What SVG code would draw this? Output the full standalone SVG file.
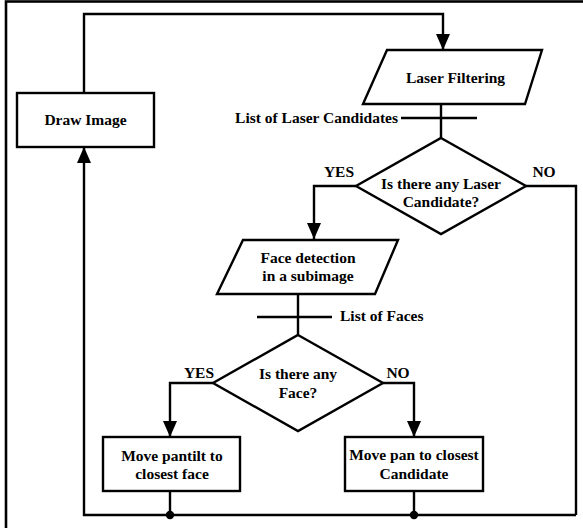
<svg xmlns="http://www.w3.org/2000/svg" width="583" height="528" viewBox="0 0 583 528">
<style>
  .shape { fill: #ffffff; stroke: #000000; stroke-width: 2.4; }
  .conn { fill: none; stroke: #000000; stroke-width: 2.4; }
  .t { font-family: "Liberation Serif", "Times New Roman", serif; font-weight: bold; font-size: 15.5px; fill: #000000; text-anchor: middle; }
  .ts { font-family: "Liberation Serif", "Times New Roman", serif; font-weight: bold; font-size: 15.5px; fill: #000000; }
</style>
<defs>
  <marker id="arrow" markerUnits="userSpaceOnUse" markerWidth="16" markerHeight="14" viewBox="0 0 16 14" refX="16" refY="7" orient="auto">
    <path d="M0,0 L16,7 L0,14 z" fill="#000000"/>
  </marker>
</defs>
<rect x="0" y="0" width="583" height="528" fill="#ffffff"/>
<rect id="frame" x="6" y="1.5" width="600" height="560" fill="none" stroke="#000000" stroke-width="2.6"/>

<g id="connectors">
  <path class="conn" d="M84,93 V14 H443 V50" marker-end="url(#arrow)"/>
  <path class="conn" d="M441,104 V138"/>
  <path class="conn" d="M401,118 H477"/>
  <path class="conn" d="M356,186 H314 V239" marker-end="url(#arrow)"/>
  <path class="conn" d="M526,186 H576 V515"/>
  <path class="conn" d="M298,294 V335"/>
  <path class="conn" d="M257,317 H332"/>
  <path class="conn" d="M213,383 H170 V437" marker-end="url(#arrow)"/>
  <path class="conn" d="M383,383 H414 V437" marker-end="url(#arrow)"/>
  <path class="conn" d="M170,491 V515"/>
  <path class="conn" d="M414,491 V515"/>
  <path class="conn" d="M576,515 H84 V147" marker-end="url(#arrow)"/>
  <circle cx="170" cy="515" r="4.2" fill="#000000"/>
  <circle cx="414" cy="515" r="4.2" fill="#000000"/>
  <text class="ts" x="398" y="122.5" text-anchor="end">List of Laser Candidates</text>
  <text class="ts" x="340" y="321">List of Faces</text>
  <text class="t" x="339" y="177">YES</text>
  <text class="t" x="544" y="177">NO</text>
  <text class="t" x="199" y="378">YES</text>
  <text class="t" x="398" y="378">NO</text>
</g>

<g id="draw-image">
  <rect class="shape" x="17" y="93" width="137" height="54"/>
  <text class="t" x="85.5" y="124.5">Draw Image</text>
</g>

<g id="laser-filtering">
  <polygon class="shape" points="387,50 542,50 525,104 363,104"/>
  <text class="t" x="455.5" y="82.5">Laser Filtering</text>
</g>

<g id="decision-laser">
  <polygon class="shape" points="441,138 526,186 441,234 356,186"/>
  <text class="t" x="441" y="188.5">Is there any Laser</text>
  <text class="t" x="441" y="207">Candidate?</text>
</g>

<g id="face-detection">
  <polygon class="shape" points="243,240 398,240 375,294 217,294"/>
  <text class="t" x="308" y="263">Face detection</text>
  <text class="t" x="308" y="281">in a subimage</text>
</g>

<g id="decision-face">
  <polygon class="shape" points="298,335 383,383 298,431 213,383"/>
  <text class="t" x="298" y="379">Is there any</text>
  <text class="t" x="298" y="397.5">Face?</text>
</g>

<g id="move-pantilt">
  <rect class="shape" x="103" y="437" width="137" height="54"/>
  <text class="t" x="172" y="460.5">Move pantilt to</text>
  <text class="t" x="172" y="479">closest face</text>
</g>

<g id="move-pan">
  <rect class="shape" x="345" y="437" width="138" height="54"/>
  <text class="t" x="414" y="460">Move pan to closest</text>
  <text class="t" x="414" y="478.5">Candidate</text>
</g>
</svg>
